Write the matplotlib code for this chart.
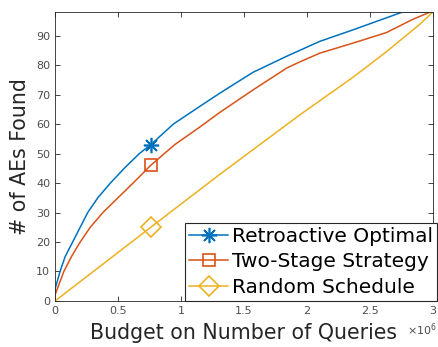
import numpy as np
import matplotlib
matplotlib.use('Agg')
import matplotlib.pyplot as plt

# budget (x1e6 queries) vs. cumulative number of AEs found
budget_opt = [0.0, 0.0, 0.04, 0.08, 0.14, 0.20, 0.26, 0.34, 0.44, 0.55, 0.67, 0.76, 0.94, 1.15,
              1.31, 1.57, 1.84, 2.10, 2.37, 2.63, 2.76, 3.0]
found_opt = [0, 4, 10, 15, 20, 25, 30, 35, 40, 45, 50, 53, 60, 66,
             70.5, 77.5, 83, 88, 92, 96, 98, 98]

budget_two = [0.0, 0.0, 0.07, 0.13, 0.20, 0.28, 0.38, 0.50, 0.62, 0.76, 0.95, 1.15, 1.31, 1.57,
              1.84, 1.94, 2.10, 2.37, 2.63, 2.84, 2.98, 3.0]
found_two = [0, 2, 10, 15, 20, 25, 30, 35, 40, 46, 53, 59, 64, 71.5,
             79, 81, 84, 87.5, 91, 95.5, 98, 98]

budget_rand = [0.0, 0.76, 1.31, 1.94, 2.37, 2.63, 2.90, 3.0]
found_rand = [0, 25, 43, 63, 76, 84.5, 94, 98]

mark_at = 0.76
labels = ['Retroactive Optimal', 'Two-Stage Strategy', 'Random Schedule']
colors = ['#0072BD', '#D95319', '#EDB120']
markers = [(8, 2, 0), 's', 'D']
msizes = [11, 9, 10]

fig = plt.figure(figsize=(4.39, 3.47), dpi=100)
ax = fig.add_axes([0.1253, 0.1326, 0.861, 0.833])

series = [(budget_opt, found_opt), (budget_two, found_two), (budget_rand, found_rand)]
for (bx, fy), lab, c, m, ms in zip(series, labels, colors, markers, msizes):
    idx = bx.index(mark_at)
    ax.plot(bx, fy, color=c, lw=1.1, label=lab, marker=m, markevery=[idx],
            markersize=ms, markerfacecolor='none', markeredgecolor=c,
            markeredgewidth=1.2)

ax.set_xlim(0, 3.0)
ax.set_ylim(0, 98)
ax.set_xticks([0, 0.5, 1, 1.5, 2, 2.5, 3])
ax.set_xticklabels(['0', '0.5', '1', '1.5', '2', '2.5', '3'])
ax.set_yticks(range(0, 100, 10))

axcol = '#262626'
for s in ax.spines.values():
    s.set_color(axcol)
    s.set_linewidth(0.6)
ax.tick_params(direction='in', length=3.5, width=0.6, colors=axcol,
               labelsize=8, top=True, right=True, labelcolor='#4d4d4d')

ax.set_xlabel('Budget on Number of Queries', fontsize=14.8, color=axcol, labelpad=5)
ax.set_ylabel('# of AEs Found', fontsize=14.8, color=axcol, labelpad=4)
ax.text(1.01, -0.07, r'$\times10^6$', transform=ax.transAxes, ha='right',
        va='top', fontsize=8, color='#4d4d4d')

leg = ax.legend(loc='lower right', fontsize=14.5, frameon=True, fancybox=False,
                borderpad=0.2, labelspacing=0.33, handlelength=1.9,
                handletextpad=0.2, borderaxespad=0.0,
                bbox_to_anchor=(1.01, 0.0))
leg.get_frame().set_edgecolor(axcol)
leg.get_frame().set_linewidth(0.8)
leg.get_frame().set_alpha(1.0)

fig.savefig('out.png', dpi=100)
